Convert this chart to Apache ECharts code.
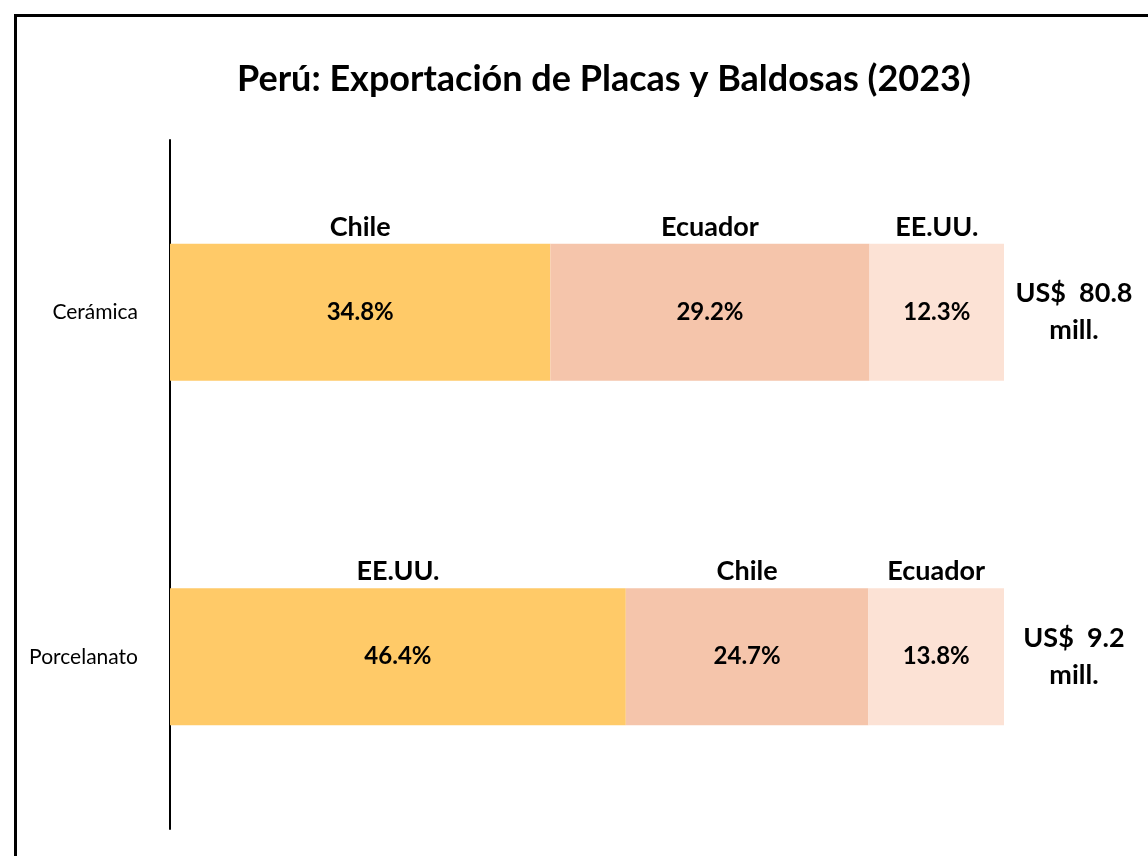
<!DOCTYPE html>
<html>
<head>
<meta charset="utf-8">
<script src="https://cdn.jsdelivr.net/npm/echarts@6/dist/echarts.min.js"></script>
<style>
  html, body { margin: 0; padding: 0; background: #fff; }
  #main { width: 1148px; height: 856px; }
</style>
</head>
<body>
<div id="main"></div>
<script>
// datos del gráfico
var categories = ["Cerámica", "Porcelanato"];
var firstCountry = ["Chile", "EE.UU."];
var firstShare = [34.8, 46.4];
var secondCountry = ["Ecuador", "Chile"];
var secondShare = [29.2, 24.7];
var thirdCountry = ["EE.UU.", "Ecuador"];
var thirdShare = [12.3, 13.8];
var totalMill = [80.8, 9.2];

var colors = ["#FFCA68", "#F5C5AB", "#FCE2D5"];
var font = "Lato, 'Open Sans', sans-serif";

// cada barra llena todo el ancho (100% apilado de los tres paises)
function normalize(i, v) {
  var sum = firstShare[i] + secondShare[i] + thirdShare[i];
  return v[i] / sum * 100;
}

var ranks = [
  { names: firstCountry, shares: firstShare },
  { names: secondCountry, shares: secondShare },
  { names: thirdCountry, shares: thirdShare }
];

var series = [];
ranks.forEach(function (r, k) {
  // segmento con el porcentaje dentro
  series.push({
    type: "bar",
    stack: "share",
    barWidth: 137,
    barGap: "-100%",
    itemStyle: { color: colors[k] },
    label: {
      show: true,
      position: "inside",
      fontFamily: font,
      fontWeight: "bold",
      fontSize: 24,
      color: "#000",
      formatter: function (p) { return r.shares[p.dataIndex].toFixed(1) + "%"; }
    },
    data: categories.map(function (c, i) { return normalize(i, r.shares); })
  });
});
ranks.forEach(function (r, k) {
  // capa transparente solo para el nombre del pais arriba
  series.push({
    type: "bar",
    stack: "names",
    barWidth: 137,
    barGap: "-100%",
    silent: true,
    itemStyle: { color: "rgba(0,0,0,0)" },
    label: {
      show: true,
      position: "top",
      distance: 3,
      fontFamily: font,
      fontWeight: "bold",
      fontSize: 27,
      color: "#000",
      formatter: function (p) { return r.names[p.dataIndex]; }
    },
    data: categories.map(function (c, i) { return normalize(i, r.shares); })
  });
});

var chart = echarts.init(document.getElementById("main"));
var option = {
  backgroundColor: "#fff",
  animation: false,
  title: {
    text: "Perú: Exportación de Placas y Baldosas (2023)",
    left: 232,
    top: 56,
    textStyle: { fontFamily: font, fontWeight: "bold", fontSize: 36, color: "#000" }
  },
  graphic: [{
    type: "rect",
    shape: { x: 15.5, y: 15.5, width: 1300, height: 1000 },
    style: { fill: null, stroke: "#000", lineWidth: 3 },
    silent: true
  }],
  grid: { left: 170, right: 144, top: 140, bottom: 27 },
  xAxis: { type: "value", min: 0, max: 100, show: false },
  yAxis: [{
    type: "category",
    inverse: true,
    data: categories,
    axisLine: { lineStyle: { color: "#000", width: 2 } },
    axisTick: { show: false },
    axisLabel: { fontFamily: font, fontSize: 21, color: "#000", margin: 32 }
  }, {
    type: "category",
    inverse: true,
    position: "right",
    data: totalMill.map(function (v) { return "US$  " + v + "\nmill."; }),
    axisLine: { show: false },
    axisTick: { show: false },
    axisLabel: {
      fontFamily: font, fontWeight: "bold", fontSize: 27, color: "#000",
      align: "center", margin: 70, lineHeight: 37
    }
  }],
  series: series
};
chart.setOption(option);
</script>
</body>
</html>
